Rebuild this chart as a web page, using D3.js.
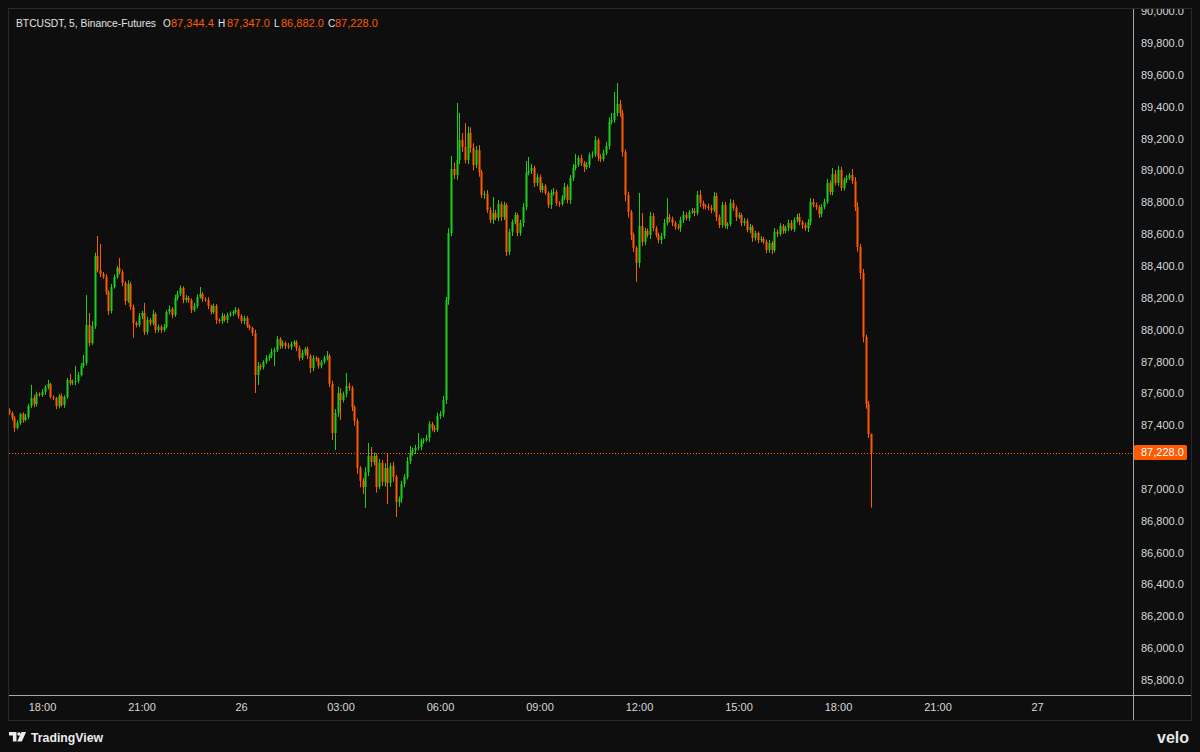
<!DOCTYPE html>
<html><head><meta charset="utf-8">
<script src="https://cdn.jsdelivr.net/npm/d3@7"></script>
<style>
html,body{margin:0;padding:0;background:#0e0e0e;}
svg{display:block;}
text{font-family:"Liberation Sans", Arial, sans-serif;}
</style></head><body>
<svg id="chart" width="1200" height="752"></svg>
<script>
// ---------- data ----------
const symbolInfo = "BTCUSDT, 5, Binance-Futures";
const ohlcLabels = ["O", "H", "L", "C"];
const ohlcValues = ["87,344.4", "87,347.0", "86,882.0", "87,228.0"];
const lastPrice = 87228.0;
const firstOpen = 87496;

// 5-minute closes, 25th 17:00 -> 26th 19:00
const closes = [
87477,87445,87383,87414,87471,87433,87452,87521,87571,87533,87596,87590,87609,87640,87659,87577,87571,87521,87584,87527,
87577,87684,87665,87671,87678,87715,87772,87791,88029,87916,88023,88463,88375,88350,88331,88237,88117,88268,88331,88387,
88362,88293,88180,88287,88142,88042,88029,88086,88105,87985,88061,88040,88098,87998,88017,87998,88017,88111,88130,88092,88199,
88224,88262,88186,88199,88186,88124,88149,88205,88224,88193,88186,88149,88111,88149,88061,88054,88086,88061,88092,88101,88111,
88124,88086,88054,88073,88023,88011,87979,87715,87772,87765,87797,87822,87835,87860,87872,87941,87898,87916,87898,87891,87910,
87923,87885,87822,87854,87879,87835,87759,87822,87815,87772,87797,87822,87835,87659,87351,87477,87602,87558,87596,87646,87634,87514,
87427,87131,87050,87012,87106,87207,87169,87207,87012,87163,87044,87131,87037,87144,87075,86918,86937,87031,87075,
87175,87226,87244,87257,87263,87301,87307,87320,87408,87383,87370,87458,87471,87558,88186,88607,89009,88971,89065,
89191,89147,89065,89235,89141,89034,89128,88990,88846,88852,88751,88689,88733,88701,88789,88707,88783,88488,
88613,88676,88720,88607,88670,88770,88984,88996,89015,88921,88959,88877,88902,88858,88783,88858,88864,88795,88790,88827,
88896,88814,88952,89015,89034,89078,89047,89021,89034,89097,89100,89191,89084,89072,89109,89153,89304,89317,89360,
89417,89360,89116,88846,88739,88594,88513,88419,88651,88551,88620,88594,88714,88638,88594,88563,88588,88670,88707,88695,
88670,88645,88640,88689,88720,88701,88739,88745,88733,88846,88795,88776,88772,88764,88751,88839,88707,88657,88783,88651,
88663,88795,88764,88707,88720,88670,88682,88626,88645,88576,88607,88563,88569,88551,88500,88544,88500,88613,88601,88651,
88620,88638,88670,88632,88689,88707,88676,88657,88638,88676,88802,88783,88770,88726,88770,88802,88921,88864,88977,88921,
89003,88889,88940,88952,88971,88933,88770,88519,88356,87954,87533,87344.4,87228
];
// wick lengths above the body top / below the body bottom (USD)
const upperWicks = [
10,8,12,15,6,10,18,12,82,20,14,10,16,12,25,8,10,6,12,15,
10,12,38,15,94,20,18,50,188,75,30,20,125,163,12,18,10,20,15,12,
63,15,10,22,12,15,10,18,12,63,20,12,25,10,15,12,18,10,22,12,20,
20,15,10,18,12,10,20,15,44,12,10,18,8,15,12,10,20,12,15,14,10,
18,12,10,15,12,10,8,20,25,15,10,18,12,22,15,20,12,15,10,18,15,
12,10,15,20,12,15,10,18,12,10,12,15,31,12,20,25,40,30,15,82,20,12,
10,15,12,20,30,82,56,20,15,25,18,30,94,20,25,12,15,20,18,
25,44,15,20,88,15,12,20,18,13,15,20,18,25,20,30,82,40,358,
170,44,150,40,35,30,25,30,15,20,25,18,100,20,25,15,20,12,
20,15,18,12,20,25,75,88,25,15,20,15,18,12,10,20,25,15,12,18,
25,15,20,25,69,15,20,12,18,15,20,25,12,18,20,25,30,44,132,
132,25,20,15,20,12,15,10,207,82,20,15,25,18,12,15,20,25,119,20,
15,12,18,20,25,15,12,20,18,25,30,15,12,20,18,25,20,15,20,18,
12,25,20,15,18,12,20,15,18,12,15,10,18,12,15,20,12,25,15,18,
12,15,20,18,15,20,25,12,15,18,25,20,15,12,18,20,25,15,38,25,
25,20,15,18,12,38,25,30,20,25,15,20,2.6
];
const lowerWicks = [
12,15,25,10,12,18,10,15,12,20,15,10,12,18,15,10,12,20,15,12,
18,10,15,12,20,15,10,12,15,20,12,18,15,20,12,18,25,15,10,12,
15,20,25,12,18,94,15,12,20,18,15,15,12,20,15,18,12,10,15,20,12,
15,12,20,15,18,20,12,15,10,18,12,20,15,12,25,15,18,12,20,12,15,
12,18,15,20,12,15,18,113,63,20,15,12,18,15,88,12,18,15,20,12,18,
15,20,18,12,15,20,31,20,15,18,15,12,15,20,44,107,25,125,15,20,18,25,
30,35,40,44,132,25,30,20,35,13,25,30,132,25,30,94,31,25,20,
15,20,18,25,15,20,18,12,25,20,15,12,18,20,25,30,20,25,30,
25,30,20,25,30,35,20,30,20,25,18,20,25,15,20,25,18,25,
20,25,15,20,18,25,20,15,18,25,20,15,18,12,20,25,15,18,20,12,
15,20,25,18,15,12,20,31,15,18,20,15,25,20,15,12,20,15,18,
20,25,30,40,35,30,25,119,30,25,20,15,25,20,15,20,25,18,15,20,
20,18,15,25,20,15,18,12,20,15,25,20,18,15,20,12,25,20,18,15,
20,15,18,25,12,20,18,15,20,25,18,20,15,12,20,18,25,15,20,12,
18,15,20,12,18,15,20,25,18,25,20,15,18,25,20,15,12,18,20,15,
20,18,15,20,12,18,25,30,40,35,30,25,346
];
const priceTicks = [85800,86000,86200,86400,86600,86800,87000,87200,87400,87600,87800,88000,88200,88400,88600,88800,89000,89200,89400,89600,89800,90000];
const timeTickLabels = ["18:00","21:00","26","03:00","06:00","09:00","12:00","15:00","18:00","21:00","27"];

// ---------- styles ----------
const UP = "#1bd01b", DOWN = "#ff5a00", BG = "#0e0e0e";
const AXIS_TXT = "#d8d8d8", FRAME = "#2a2a2a", SEP = "#a7a7a7";

const svg = d3.select("#chart");
svg.append("rect").attr("width",1200).attr("height",752).attr("fill",BG);

const pane = {left:9, top:9, right:1133, bottom:695};

const barTimes = d3.timeMinute.every(5).range(new Date(2025,10,25,17,0), new Date(2025,10,26,19,1));
const x = d3.scaleTime().domain([new Date(2025,10,25,18,0), new Date(2025,10,27,0,0)]).range([42,1037]);
const y = d3.scaleLinear().domain([85800, 89800]).range([680, 43]);

const n = Math.min(closes.length, barTimes.length, upperWicks.length, lowerWicks.length);
const candles = d3.range(n).map(i=>{
  const c = closes[i];
  const o = i===0 ? firstOpen : closes[i-1];
  return {t: barTimes[i], o, c, h: Math.max(o,c)+upperWicks[i], l: Math.min(o,c)-lowerWicks[i]};
});

const defs = svg.append("defs");
defs.append("clipPath").attr("id","paneClip").append("rect")
  .attr("x",pane.left).attr("y",pane.top).attr("width",pane.right-pane.left).attr("height",pane.bottom-pane.top);
defs.append("clipPath").attr("id","axisClip").append("rect")
  .attr("x",1).attr("y",9).attr("width",57).attr("height",686);

// candles
const g = svg.append("g").attr("clip-path","url(#paneClip)");
const cg = g.selectAll("g.c").data(candles).join("g").attr("class","c");
cg.append("line")
  .attr("x1",d=>Math.round(x(d.t))+0.5).attr("x2",d=>Math.round(x(d.t))+0.5)
  .attr("y1",d=>y(d.h)).attr("y2",d=>y(d.l))
  .attr("stroke",d=>d.c>=d.o?UP:DOWN).attr("stroke-width",1);
cg.append("rect")
  .attr("x",d=>Math.round(x(d.t))-0.5).attr("width",2)
  .attr("y",d=>y(Math.max(d.o,d.c)))
  .attr("height",d=>Math.max(1, Math.abs(y(d.o)-y(d.c))))
  .attr("fill",d=>d.c>=d.o?UP:DOWN);

// last price dotted line
const yl = Math.round(y(lastPrice))+0.5;
svg.append("line").attr("x1",pane.left).attr("x2",pane.right).attr("y1",yl).attr("y2",yl)
  .attr("stroke",DOWN).attr("stroke-width",1).attr("stroke-dasharray","1,2");

// frame & separators
svg.append("rect").attr("x",8.5).attr("y",8.5).attr("width",1183).attr("height",712)
  .attr("fill","none").attr("stroke",FRAME);
svg.append("line").attr("x1",1133.5).attr("x2",1133.5).attr("y1",9).attr("y2",720).attr("stroke",SEP);
svg.append("line").attr("x1",9).attr("x2",1191).attr("y1",695.5).attr("y2",695.5).attr("stroke",SEP);

// right price axis (labels hidden behind the last-price tag are skipped)
const visibleTicks = priceTicks.filter(p => Math.abs(y(p)-y(lastPrice)) > 12);
const yAxis = svg.append("g").attr("transform","translate(1133,0)").attr("clip-path","url(#axisClip)")
  .call(d3.axisRight(y).tickValues(visibleTicks).tickSize(0).tickPadding(8).tickFormat(d3.format(",.1f")));
yAxis.select(".domain").remove();
yAxis.selectAll("text").attr("fill",AXIS_TXT).attr("font-size",11).attr("font-family","Liberation Sans, Arial, sans-serif");

// price tag
const tag = svg.append("g");
tag.append("rect").attr("x",1134).attr("y",y(lastPrice)-7.5).attr("width",53).attr("height",15).attr("rx",1.5).attr("fill",DOWN);
tag.append("text").attr("x",1141).attr("y",y(lastPrice)).attr("dy","0.35em")
  .attr("fill","#ffffff").attr("font-size",11).text(d3.format(",.1f")(lastPrice));

// bottom time axis
const tickTimes = d3.timeHour.every(3).range(new Date(2025,10,25,18,0), new Date(2025,10,27,0,1));
const xAxis = svg.append("g").attr("transform","translate(0,695)")
  .call(d3.axisBottom(x).tickValues(tickTimes).tickSize(0).tickPadding(8.5)
    .tickFormat((d,i)=>timeTickLabels[i]));
xAxis.select(".domain").remove();
xAxis.selectAll("text").attr("fill",AXIS_TXT).attr("font-size",11).attr("font-family","Liberation Sans, Arial, sans-serif");

// header legend
const hdr = svg.append("g");
hdr.append("text").attr("x",16).attr("y",27).attr("fill","#e4e4e4").attr("font-size",10.4)
  .attr("textLength",140).attr("lengthAdjust","spacingAndGlyphs").text(symbolInfo);
const lx = [163,218,274,328], vx = [171,227,281,335];
ohlcLabels.forEach((l,i)=>{
  const t = hdr.append("text").attr("y",27);
  t.append("tspan").attr("x",lx[i]).attr("fill","#e4e4e4").attr("font-size",10).text(l);
  t.append("tspan").attr("x",vx[i]).attr("fill",DOWN).attr("font-size",11).text(ohlcValues[i]);
});

// TradingView logo
const logo = svg.append("g").attr("fill","#ececec");
logo.append("path").attr("d","M9,732 h7.5 v9.5 h-3.6 v-6 h-3.9 z");
logo.append("circle").attr("cx",19).attr("cy",734).attr("r",1.8);
logo.append("path").attr("d","M21.5,732 h4.6 l-4.3,9.5 h-4.6 z");
logo.append("text").attr("x",31).attr("y",741.5).attr("font-size",13).attr("font-weight",600)
  .attr("font-family","Open Sans, sans-serif").attr("textLength",72).attr("lengthAdjust","spacingAndGlyphs").text("TradingView");

svg.append("text").attr("x",1157).attr("y",743).attr("font-size",17).attr("font-weight",700)
  .attr("font-family","Open Sans, sans-serif").attr("fill","#e6e6e6")
  .attr("textLength",32).attr("lengthAdjust","spacingAndGlyphs").text("velo");
</script>
</body></html>
